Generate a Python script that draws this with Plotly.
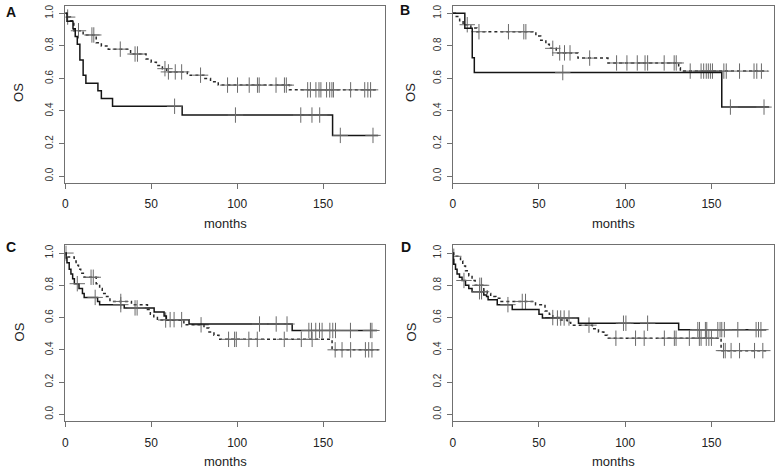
import numpy as np
import plotly.graph_objects as go

# ---------------- data (months, survival probability) ----------------
# Panel A
A_solid_t = [0, 1, 4.5, 5.8, 7, 8.5, 10.4, 12, 19, 21, 27.5, 68, 155.5]
A_solid_s = [1, 0.952, 0.905, 0.857, 0.810, 0.714, 0.619, 0.571, 0.524, 0.476, 0.429, 0.375, 0.25]
A_solid_cens = [63.6, 99, 137, 143.5, 148, 160, 179]
A_solid_end = 182
A_dot_t = [0, 1, 3, 5, 10.4, 18, 21, 25, 38, 47, 50, 53, 56.5, 59, 71, 80.6, 84.5, 89, 130.4]
A_dot_s = [1, 0.977, 0.955, 0.893, 0.867, 0.82, 0.80, 0.78, 0.75, 0.72, 0.70, 0.68, 0.66, 0.64, 0.62, 0.60, 0.58, 0.559, 0.53]
A_dot_cens = [1.4, 7.7, 15.5, 16.6, 32, 40.6, 42, 58, 60, 64, 67.7, 78.7, 94.4, 100.2, 107, 111.8,
              112.8, 122.6, 127.5, 128.6, 141, 142.6, 145.8, 147.6, 148.7, 152, 153.8, 155.1, 156,
              166, 174.2, 176, 177.6]
A_dot_end = 181.6

# Panel B
B_solid_t = [0, 7, 11.3, 12.5, 156]
B_solid_s = [1, 0.909, 0.727, 0.636, 0.424]
B_solid_cens = [63.8, 161, 180.5]
B_solid_end = 183.5
B_dot_t = [0, 1.5, 4, 6, 10.5, 14, 48.2, 51, 54, 56, 60, 72.6, 90, 131, 132]
B_dot_s = [1, 0.98, 0.955, 0.93, 0.91, 0.887, 0.86, 0.835, 0.81, 0.785, 0.757, 0.725, 0.695, 0.665, 0.645]
B_dot_cens = [8.4, 15.2, 32.3, 41.2, 42.4, 58, 62, 64.8, 68, 79.4, 95, 101, 107, 111.5, 113, 122.6,
              128.4, 129.6, 137.7, 144, 145.5, 147, 148.2, 149.4, 150.6, 157.2, 158.6, 166.3, 174.7,
              176.3, 179]
B_dot_end = 182.5

# Panel C
C_solid_t = [0, 0.5, 1, 2.3, 3.3, 4.3, 5.3, 8, 10, 11, 18.8, 20, 34.3, 51.7, 57.5, 58.8, 72, 132]
C_solid_s = [1, 0.97, 0.94, 0.90, 0.87, 0.84, 0.81, 0.78, 0.75, 0.725, 0.70, 0.68, 0.66, 0.634, 0.61, 0.587, 0.56, 0.52]
C_solid_cens = [7, 17.4, 32.3, 40.6, 41.8, 61, 63.3, 67.7, 113, 122.7, 129, 141.7, 143.2, 145.7,
                147.9, 149.4, 153.9, 155.6, 157.2, 165.9, 177.5, 178.4]
C_solid_end = 181.3
C_dot_t = [0, 0.5, 5.2, 6.3, 7.7, 9, 11, 18, 20, 21.5, 24, 26, 38.5, 47.8, 49.5, 51.5, 53.6, 69,
           80.7, 83.6, 86.5, 89.4, 155.2]
C_dot_s = [1, 0.975, 0.95, 0.925, 0.90, 0.875, 0.85, 0.81, 0.78, 0.75, 0.73, 0.70, 0.68, 0.65, 0.62,
           0.60, 0.585, 0.555, 0.535, 0.51, 0.49, 0.465, 0.40]
C_dot_cens = [0.4, 15, 16.3, 32.3, 58.4, 79, 95, 98.5, 99.5, 106.8, 111.7, 127.4, 137.3, 143.6,
              157, 161, 166, 174.6, 176.5, 178.4]
C_dot_end = 182.3

# Panel D
D_solid_t = [0, 0.2, 0.6, 1.6, 2.5, 3.9, 5.4, 7.4, 9.3, 11.2, 18, 19.6, 20.5, 25.8, 34.5, 50, 52, 72.9, 131]
D_solid_s = [1, 0.96, 0.93, 0.90, 0.87, 0.85, 0.83, 0.80, 0.78, 0.76, 0.74, 0.73, 0.71, 0.68, 0.65,
             0.62, 0.597, 0.565, 0.525]
D_solid_cens = [6.5, 15.5, 16.7, 32, 60.7, 62.6, 64.6, 67.4, 99, 100.4, 113, 142.1, 143.1, 146.5,
                147.3, 153.7, 155, 156, 157.5, 165.3, 175.9, 177.3, 178.7]
D_solid_end = 181.8
D_dot_t = [0, 0.6, 3.5, 4.5, 5.8, 7.4, 9.3, 11.2, 13, 18, 20, 22, 25, 28, 48, 53.5, 56, 58, 61.6,
           66.4, 68.4, 81, 84.5, 87.6, 89.7, 155.6]
D_dot_s = [1, 0.98, 0.97, 0.95, 0.92, 0.89, 0.86, 0.83, 0.80, 0.77, 0.75, 0.73, 0.72, 0.70, 0.68,
           0.64, 0.62, 0.60, 0.585, 0.57, 0.553, 0.53, 0.51, 0.49, 0.472, 0.395]
D_dot_cens = [0.6, 15.7, 16.7, 40.3, 42.2, 58, 79, 94.6, 106, 111, 122.7, 128.5, 129.5, 137.2, 143,
              144, 147, 148.5, 150, 157, 158, 161.4, 166.3, 175, 179.8]
D_dot_end = 182.7

panel_labels = ["A", "B", "C", "D"]
x_ticks = [0, 50, 100, 150]
y_ticks = [0.0, 0.2, 0.4, 0.6, 0.8, 1.0]
x_title = "months"
y_title = "OS"

panels = [
    (A_solid_t, A_solid_s, A_solid_cens, A_solid_end, A_dot_t, A_dot_s, A_dot_cens, A_dot_end),
    (B_solid_t, B_solid_s, B_solid_cens, B_solid_end, B_dot_t, B_dot_s, B_dot_cens, B_dot_end),
    (C_solid_t, C_solid_s, C_solid_cens, C_solid_end, C_dot_t, C_dot_s, C_dot_cens, C_dot_end),
    (D_solid_t, D_solid_s, D_solid_cens, D_solid_end, D_dot_t, D_dot_s, D_dot_cens, D_dot_end),
]

# ---------------- layout geometry (pixels of 776x470 canvas) ----------------
W, H = 776, 470
col_x = [(62.5, 383.5), (451.5, 773.5)]
row_y = [(4.7, 182.3), (245.0, 421.0)]
os_x = [16.2, 409.7]
months_y = [223.0, 461.5]
os_y = [92.0, 332.0]
letter_pos = [(8.3, 10.8), (404.0, 9.5), (8.3, 246.7), (404.3, 246.7)]

FONT = "Liberation Sans, Arial, sans-serif"
BOX = "#707070"
SOLID = "#151515"
DOT = "#2a2a2a"
CENS = "#6a6a6a"

fig = go.Figure()
annotations = []


def censor_y(t, s, cens):
    t = np.asarray(t)
    s = np.asarray(s)
    idx = np.searchsorted(t, np.asarray(cens), side="right") - 1
    return s[idx]


for i, (st, ss, sc, se, dt, ds, dc, de) in enumerate(panels):
    r, c = divmod(i, 2)
    n = "" if i == 0 else str(i + 1)
    xa, ya = "x" + n, "y" + n
    # dotted group
    fig.add_trace(go.Scatter(x=list(dt) + [de], y=list(ds) + [ds[-1]], mode="lines",
                             line=dict(color=DOT, width=1.5, dash="dot", shape="hv"),
                             xaxis=xa, yaxis=ya, showlegend=False, hoverinfo="skip"))
    fig.add_trace(go.Scatter(x=dc, y=censor_y(dt, ds, dc), mode="markers",
                             marker=dict(symbol="cross-thin", size=11, line=dict(color=CENS, width=1)),
                             xaxis=xa, yaxis=ya, showlegend=False, hoverinfo="skip"))
    # solid group
    fig.add_trace(go.Scatter(x=list(st) + [se], y=list(ss) + [ss[-1]], mode="lines",
                             line=dict(color=SOLID, width=1.5, shape="hv"),
                             xaxis=xa, yaxis=ya, showlegend=False, hoverinfo="skip"))
    fig.add_trace(go.Scatter(x=sc, y=censor_y(st, ss, sc), mode="markers",
                             marker=dict(symbol="cross-thin", size=11, line=dict(color=CENS, width=1)),
                             xaxis=xa, yaxis=ya, showlegend=False, hoverinfo="skip"))

    x0, x1 = col_x[c]
    y0, y1 = row_y[r]
    fig.update_layout(**{
        "xaxis" + n: dict(domain=[x0 / W, x1 / W], anchor=ya, range=[0, 186],
                          tickvals=x_ticks, ticks="outside", ticklen=5, tickcolor=BOX,
                          showline=True, linecolor=BOX, linewidth=1, mirror=True,
                          showgrid=False, zeroline=False, ticklabelstandoff=5,
                          tickfont=dict(family=FONT, size=12, color="#222")),
        "yaxis" + n: dict(domain=[1 - y1 / H, 1 - y0 / H], anchor=xa, range=[-0.042, 1.047],
                          tickvals=y_ticks, tickformat=".1f", ticks="outside", ticklen=5,
                          tickcolor=BOX, showline=True, linecolor=BOX, linewidth=1, mirror=True,
                          showgrid=False, zeroline=False, tickangle=-90, ticklabelstandoff=2,
                          tickfont=dict(family=FONT, size=10, color="#333")),
    })
    annotations.append(dict(text=x_title, x=(x0 + x1) / 2 / W, y=1 - months_y[r] / H,
                            xref="paper", yref="paper", showarrow=False,
                            xanchor="center", yanchor="middle",
                            font=dict(family=FONT, size=13, color="#222")))
    annotations.append(dict(text=y_title, x=os_x[c] / W, y=1 - os_y[r] / H, textangle=-90,
                            xref="paper", yref="paper", showarrow=False,
                            xanchor="center", yanchor="middle",
                            font=dict(family=FONT, size=13, color="#222")))
    lx, ly = letter_pos[i]
    annotations.append(dict(text="<b>" + panel_labels[i] + "</b>", x=lx / W, y=1 - ly / H,
                            xref="paper", yref="paper", showarrow=False,
                            xanchor="center", yanchor="middle",
                            font=dict(family=FONT, size=14, color="#111")))

fig.update_layout(width=W, height=H, margin=dict(l=0, r=0, t=0, b=0),
                  paper_bgcolor="white", plot_bgcolor="white",
                  annotations=annotations)

fig.write_html("out.html", config={"displayModeBar": False},
               post_script="document.body.style.margin='0';document.body.style.padding='0';"
                           "document.body.style.overflow='hidden';")
